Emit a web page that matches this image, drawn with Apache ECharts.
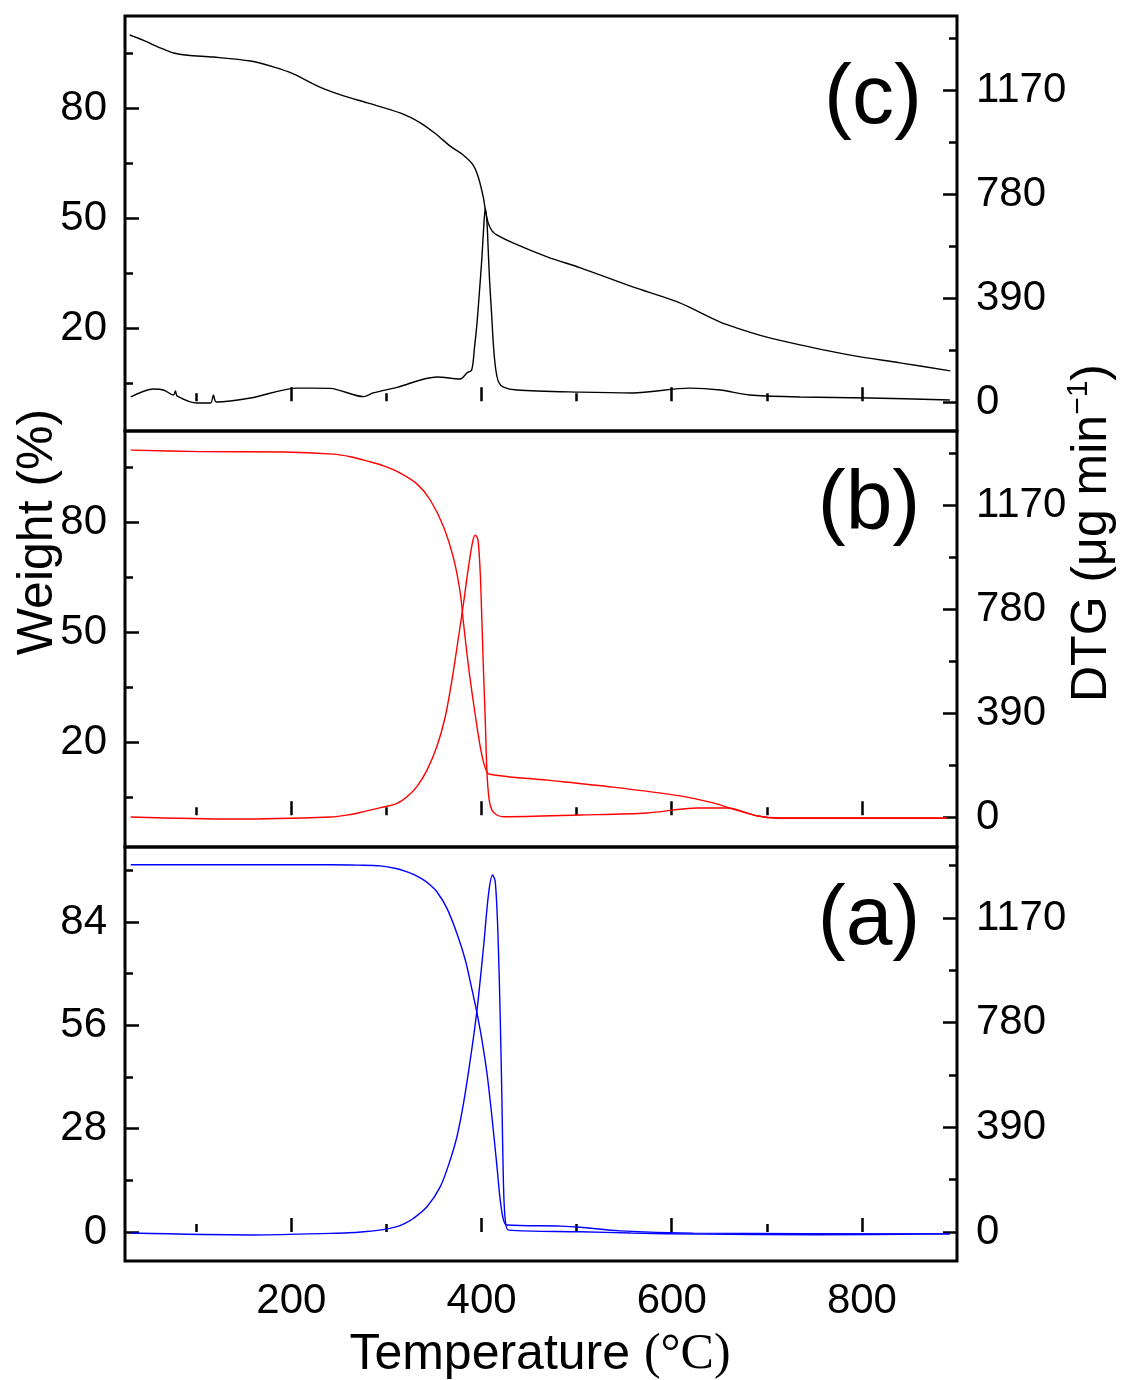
<!DOCTYPE html>
<html>
<head>
<meta charset="utf-8">
<script src="https://cdn.jsdelivr.net/npm/echarts@6/dist/echarts.min.js"></script>
<style>html,body{margin:0;padding:0;background:#fff}#c{width:1121px;height:1380px}</style>
</head>
<body>
<div id="c"></div>
<script>
// ---- Data (temperature in °C, weight in %, DTG in µg/min) ----
// Panel (c) – black
var cWeightT = [30, 44, 62, 76, 91, 118, 157, 181, 202, 230, 255, 280, 315, 336, 352, 367, 380.6, 391, 396.5, 401.8, 404, 407, 411, 416, 433, 469, 504, 559, 606, 651, 665, 700, 735, 788, 840, 893];
var cWeight  = [99.9, 98.5, 96.4, 95.0, 94.4, 93.9, 92.8, 91.2, 89.3, 85.7, 83.3, 81.4, 78.6, 75.9, 72.9, 69.6, 67.2, 64.5, 61.2, 55.7, 52.2, 48.6, 46.5, 45.4, 43.2, 39.4, 36.4, 31.2, 27.1, 21.6, 20.3, 17.5, 15.4, 12.6, 10.5, 8.3];
var cDtgT = [31, 55, 65.5, 76, 78, 80, 101, 115, 118, 121, 157, 206, 223, 241, 276, 286, 311, 353, 377.5, 384.6, 389.6, 392.6, 395.2, 397.9, 400.4, 402.5, 403.9, 405.7, 407, 408.4, 410.5, 412.6, 415, 417.9, 423, 437, 503.6, 559, 619, 651, 682, 735, 808, 892.5];
var cDtg  = [19, 49, 45, 26, 41, 22, -4, -4, 26, 0, 15, 52, 52, 51, 20, 34, 55, 94, 86, 109, 120, 206, 296, 420, 544, 671, 727, 671, 570, 457, 334, 206, 120, 75, 56, 45, 37, 34, 52, 45, 26, 19, 15, 7.5];
// Panel (b) – red
var bWeightT = [31, 104, 192, 244, 262, 280, 297, 314, 332, 346, 360, 371, 377.6, 381, 386.3, 391.6, 398.6, 404, 408.4, 469, 538, 609, 643.5, 661, 690, 714, 889];
var bWeight  = [99.6, 99.2, 99.1, 98.5, 97.8, 96.6, 95.3, 93.4, 90.4, 86, 78.7, 69.6, 60.6, 52.4, 40.5, 30.5, 18.7, 12.8, 11.2, 9.6, 7.7, 5.3, 3.4, 2.0, -0.2, -0.8, -0.8];
var bDtgT = [31, 139, 241, 260, 276, 295, 311, 321.6, 332, 342.6, 353, 361.8, 368.9, 375.8, 381, 386.3, 390.6, 393.4, 396.2, 398.6, 400.4, 402.1, 404, 405.7, 408, 410.9, 416, 423, 503.6, 574, 626.5, 658, 690, 714, 889];
var bDtg  = [0, -7.5, 0, 8, 20, 36, 51, 76, 114, 176, 264, 376, 514, 676, 801, 939, 1032, 1057, 1039, 915, 727, 540, 352, 165, 64, 26, 7.5, 1, 7.5, 15, 34, 34, 4, -4, -4];
// Panel (a) – blue
var aWeightT = [31, 241, 270, 293.5, 310, 321.6, 330, 339, 346, 353, 363.6, 374.1, 382.9, 390, 395.2, 400.4, 405.7, 410.9, 416.2, 419.6, 423, 426.7, 482.7, 503.6, 545.7, 622.8, 892.5];
var aWeight  = [99.5, 99.5, 99.4, 99.2, 98.5, 97.6, 96.7, 95.4, 94.0, 92.2, 87.7, 80.9, 73.7, 65.6, 59.3, 52, 43, 31.2, 17.7, 8.7, 3.3, 1.9, 1.6, 1.3, 0.3, -0.3, -0.5];
var aDtgT = [31, 157, 241, 260, 276, 295, 311, 320, 328.5, 342.6, 356.6, 367, 374.1, 381, 388.1, 395.2, 402.1, 407.4, 411.6, 414.4, 417.2, 419.6, 421.4, 423, 424.9, 428.4, 503.6, 557, 630, 750, 892.5];
var aDtg  = [-4, -11, -5, -3, 1, 8, 20, 33, 51, 94, 169, 268, 355, 479, 641, 827, 1063, 1262, 1330, 1305, 1113, 802, 492, 181, 45, 7, 1, -4, -8, -10, -7];

// ---- Tick labels ----
var xMajorTicks = [200, 400, 600, 800];
var xMinorTicks = [100, 300, 500, 700];
var wMajorTicksCB = [20, 50, 80];
var wMinorTicksCB = [5, 35, 65, 95];
var wMajorTicksA = [0, 28, 56, 84];
var wMinorTicksA = [14, 42, 70, 98];
var dtgMajorTicks = [0, 390, 780, 1170];
var dtgMinorTicks = [195, 585, 975, 1365];
var panelLabels = ['(c)', '(b)', '(a)'];

function pairs(t, v) { return t.map(function (x, i) { return [x, v[i]]; }); }
function plain(v) { return String(Math.round(v)); }

var FONT = "'Liberation Sans', Arial, sans-serif";
var grids = [
  { top: 16, height: 415, wMin: -8.09, wMax: 105.09, dMin: -108.75, dMax: 1447.5, wMaj: wMajorTicksCB, wMin2: wMinorTicksCB,
    color: '#000000', w: pairs(cWeightT, cWeight), d: pairs(cDtgT, cDtg) },
  { top: 431, height: 416, wMin: -8.64, wMax: 104.82, dMin: -112.5, dMax: 1447.5, wMaj: wMajorTicksCB, wMin2: wMinorTicksCB,
    color: '#ff0000', w: pairs(bWeightT, bWeight), d: pairs(bDtgT, bDtg) },
  { top: 847, height: 414, wMin: -7.86, wMax: 104.32, dMin: -108.06, dMax: 1434.5, wMaj: wMajorTicksA, wMin2: wMinorTicksA,
    color: '#0000ff', w: pairs(aWeightT, aWeight), d: pairs(aDtgT, aDtg) }
];

var option = { animation: false, backgroundColor: '#ffffff', grid: [], xAxis: [], yAxis: [], series: [], graphic: [] };

grids.forEach(function (g, i) {
  option.grid.push({ left: 125, width: 832, top: g.top, height: g.height, show: true, borderColor: '#000', borderWidth: 3, backgroundColor: 'transparent', z: 5 });
  var isBottom = (i === 2);
  option.xAxis.push({ type: 'value', gridIndex: i, min: 25, max: 900, position: 'bottom',
    axisLine: { show: false }, splitLine: { show: false },
    axisTick: { show: true, inside: true, length: 14, customValues: xMajorTicks, lineStyle: { color: '#000', width: 2.5 } },
    axisLabel: { show: isBottom, customValues: xMajorTicks, formatter: plain, margin: 19, fontSize: 42, color: '#000', fontFamily: FONT } });
  option.xAxis.push({ type: 'value', gridIndex: i, min: 25, max: 900, position: 'bottom',
    axisLine: { show: false }, splitLine: { show: false },
    axisTick: { show: true, inside: true, length: 8, customValues: xMinorTicks, lineStyle: { color: '#000', width: 2.5 } },
    axisLabel: { show: false } });
  option.yAxis.push({ type: 'value', gridIndex: i, min: g.wMin, max: g.wMax, position: 'left',
    axisLine: { show: false }, splitLine: { show: false },
    axisTick: { show: true, inside: true, length: 14, customValues: g.wMaj, lineStyle: { color: '#000', width: 2.5 } },
    axisLabel: { show: true, customValues: g.wMaj, formatter: plain, margin: 18, fontSize: 42, color: '#000', fontFamily: FONT } });
  option.yAxis.push({ type: 'value', gridIndex: i, min: g.wMin, max: g.wMax, position: 'left',
    axisLine: { show: false }, splitLine: { show: false },
    axisTick: { show: true, inside: true, length: 8, customValues: g.wMin2, lineStyle: { color: '#000', width: 2.5 } },
    axisLabel: { show: false } });
  option.yAxis.push({ type: 'value', gridIndex: i, min: g.dMin, max: g.dMax, position: 'right',
    axisLine: { show: false }, splitLine: { show: false },
    axisTick: { show: true, inside: true, length: 14, customValues: dtgMajorTicks, lineStyle: { color: '#000', width: 2.5 } },
    axisLabel: { show: true, customValues: dtgMajorTicks, formatter: plain, margin: 19, fontSize: 42, color: '#000', fontFamily: FONT } });
  option.yAxis.push({ type: 'value', gridIndex: i, min: g.dMin, max: g.dMax, position: 'right',
    axisLine: { show: false }, splitLine: { show: false },
    axisTick: { show: true, inside: true, length: 8, customValues: dtgMinorTicks, lineStyle: { color: '#000', width: 2.5 } },
    axisLabel: { show: false } });

  option.series.push({ type: 'line', xAxisIndex: i * 2, yAxisIndex: i * 4, data: g.w, showSymbol: false, smooth: 0.3,
    lineStyle: { color: g.color, width: 1.4 }, itemStyle: { color: g.color }, z: 3 });
  option.series.push({ type: 'line', xAxisIndex: i * 2, yAxisIndex: i * 4 + 2, data: g.d, showSymbol: false, smooth: 0.3,
    lineStyle: { color: g.color, width: 1.4 }, itemStyle: { color: g.color }, z: 3 });
});

var panelPos = [[873, 100], [869, 506], [869, 921]];
panelLabels.forEach(function (t, i) {
  option.graphic.push({ type: 'text', x: panelPos[i][0], y: panelPos[i][1], z: 10,
    style: { text: t, fontSize: 84, fontFamily: FONT, fill: '#000', textAlign: 'center', textVerticalAlign: 'middle' } });
});
option.graphic.push({ type: 'text', x: 38, y: 532, rotation: Math.PI / 2, z: 10,
  style: { text: 'Weight (%)', fontSize: 50, fontFamily: FONT, fill: '#000', textAlign: 'center', textVerticalAlign: 'middle' } });
option.graphic.push({ type: 'text', x: 1092, y: 533, rotation: Math.PI / 2, z: 10,
  style: { text: '{a|DTG (μg min}{s|−1}{a|)}', textAlign: 'center', textVerticalAlign: 'middle', fill: '#000',
    rich: { a: { fontSize: 50, fontFamily: FONT, fill: '#000', lineHeight: 56 }, s: { fontSize: 30, fontFamily: FONT, fill: '#000', verticalAlign: 'top', lineHeight: 30 } } } });
option.graphic.push({ type: 'text', x: 540, y: 1355, z: 10,
  style: { text: '{a|Temperature }{b|(°C)}', textAlign: 'center', textVerticalAlign: 'middle', fill: '#000',
    rich: { a: { fontSize: 50, fontFamily: FONT, fill: '#000' }, b: { fontSize: 50, fontFamily: "'Liberation Serif', 'Times New Roman', serif", fill: '#000' } } } });

var chart = echarts.init(document.getElementById('c'), null, { renderer: 'canvas' });
chart.setOption(option);
</script>
</body>
</html>
